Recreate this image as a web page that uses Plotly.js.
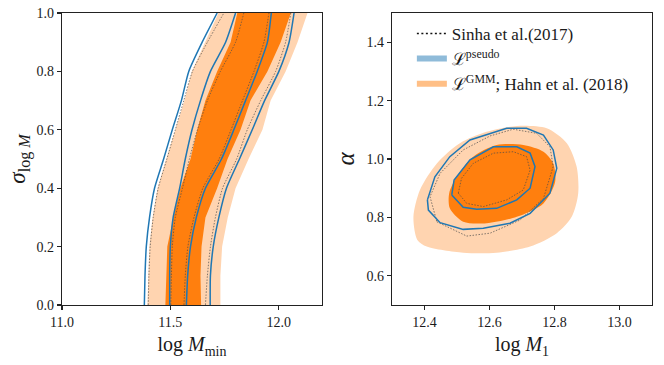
<!DOCTYPE html>
<html>
<head>
<meta charset="utf-8">
<script src="https://cdn.plot.ly/plotly-3.0.1.min.js"></script>
<style>html,body{margin:0;padding:0;background:#fff}#chart{width:664px;height:365px}</style>
</head>
<body>
<div id="chart"></div>
<script>
// ---- left panel: sigma_logM vs log Mmin, band edges read at fixed sigma levels
const sigmaLevels  = [0.0, 0.1, 0.2, 0.3, 0.4, 0.5, 0.6, 0.7, 0.8, 0.9, 1.0];
const gmm95Left    = [11.394, 11.397, 11.403, 11.418, 11.441, 11.481, 11.523, 11.565, 11.599, 11.661, 11.722];
const gmm95Right   = [11.731, 11.731, 11.739, 11.765, 11.801, 11.861, 11.925, 11.963, 12.032, 12.087, 12.133];
const gmm68Left    = [11.477, 11.480, 11.486, 11.514, 11.546, 11.593, 11.624, 11.662, 11.716, 11.778, 11.809];
const gmm68Right   = [11.642, 11.639, 11.644, 11.662, 11.716, 11.764, 11.824, 11.870, 11.948, 12.009, 12.056];
const pseudo95Left = [11.380, 11.383, 11.389, 11.404, 11.427, 11.469, 11.509, 11.551, 11.585, 11.647, 11.716];
const pseudo95Right= [11.684, 11.685, 11.698, 11.724, 11.759, 11.819, 11.878, 11.935, 12.001, 12.048, 12.071];
const pseudo68Left = [11.497, 11.497, 11.500, 11.513, 11.543, 11.569, 11.600, 11.639, 11.685, 11.755, 11.801];
const pseudo68Right= [11.574, 11.580, 11.593, 11.620, 11.662, 11.736, 11.793, 11.847, 11.901, 11.948, 11.966];
const sinha95Left  = [11.398, 11.401, 11.407, 11.421, 11.444, 11.484, 11.523, 11.562, 11.602, 11.671, 11.747];
const sinha95Right = [11.662, 11.671, 11.685, 11.708, 11.741, 11.806, 11.855, 11.917, 11.986, 12.032, 12.056];
const sinha68Left  = [11.502, 11.505, 11.509, 11.523, 11.556, 11.588, 11.625, 11.671, 11.731, 11.801, 11.839];
const sinha68Right = [11.563, 11.569, 11.581, 11.609, 11.650, 11.725, 11.780, 11.833, 11.886, 11.932, 11.955];

// ---- right panel: alpha vs log M1, closed contours
const gmm95M1      = [12.366, 12.378, 12.407, 12.519, 12.622, 12.725, 12.807, 12.853, 12.873, 12.868, 12.838, 12.776, 12.684, 12.591, 12.509, 12.438, 12.386];
const gmm95Alpha   = [0.802, 0.723, 0.700, 0.679, 0.679, 0.700, 0.746, 0.802, 0.883, 0.974, 1.054, 1.105, 1.113, 1.093, 1.054, 0.985, 0.894];
const gmm68M1      = [12.476, 12.478, 12.519, 12.591, 12.684, 12.766, 12.802, 12.796, 12.766, 12.704, 12.622, 12.550, 12.499];
const gmm68Alpha   = [0.883, 0.831, 0.785, 0.780, 0.802, 0.848, 0.922, 0.985, 1.025, 1.048, 1.048, 1.008, 0.939];
const pseudo95M1   = [12.409, 12.412, 12.448, 12.519, 12.581, 12.663, 12.725, 12.786, 12.807, 12.796, 12.766, 12.714, 12.653, 12.602, 12.540, 12.478, 12.432];
const pseudo95Alpha= [0.860, 0.825, 0.782, 0.759, 0.763, 0.780, 0.814, 0.883, 0.968, 1.031, 1.082, 1.105, 1.105, 1.088, 1.065, 1.008, 0.939];
const pseudo68M1   = [12.484, 12.519, 12.561, 12.622, 12.684, 12.725, 12.740, 12.725, 12.684, 12.612, 12.540, 12.491];
const pseudo68Alpha= [0.877, 0.835, 0.828, 0.831, 0.860, 0.900, 0.974, 1.020, 1.042, 1.042, 0.997, 0.928];
const sinha95M1    = [12.438, 12.530, 12.602, 12.694, 12.766, 12.796, 12.786, 12.745, 12.673, 12.602, 12.519, 12.448, 12.417];
const sinha95Alpha = [0.785, 0.736, 0.746, 0.791, 0.865, 0.974, 1.042, 1.088, 1.102, 1.079, 1.031, 0.951, 0.871];
const sinha68M1    = [12.504, 12.530, 12.581, 12.653, 12.704, 12.725, 12.714, 12.673, 12.612, 12.550, 12.514];
const sinha68Alpha = [0.883, 0.848, 0.837, 0.860, 0.894, 0.962, 1.008, 1.025, 1.020, 0.985, 0.934];

const legendNames = ['Sinha et al.(2017)', 'ℒ<sup>pseudo</sup>', 'ℒ<sup>GMM</sup>; Hahn et al. (2018)'];

const C = { light: '#ffd4b0', dark: '#ff7f0e', blue: '#1f77b4', sinha: '#4a4a4a', ink: '#1a1a1a' };
const FONT = "'Liberation Serif', 'DejaVu Serif', serif";
const FINE_DOT = '1.5px,1.5px';   // matplotlib's thin dotted contour

function band(left, right, color) {
  return { x: left.concat(right.slice().reverse()), y: sigmaLevels.concat(sigmaLevels.slice().reverse()),
    xaxis: 'x', yaxis: 'y', mode: 'lines', fill: 'toself', fillcolor: color, line: { width: 0 },
    hoverinfo: 'skip', showlegend: false };
}
function edge(xs, color, width, dash) {
  return { x: xs, y: sigmaLevels, xaxis: 'x', yaxis: 'y', mode: 'lines',
    line: { color, width, dash: dash || 'solid', shape: 'spline', smoothing: 0.6 }, hoverinfo: 'skip', showlegend: false };
}
function closed(a) { return a.concat([a[0]]); }
function blob(xs, ys, color) {
  return { x: closed(xs), y: closed(ys), xaxis: 'x2', yaxis: 'y2', mode: 'lines', fill: 'toself',
    fillcolor: color, line: { width: 0, shape: 'spline', smoothing: 0.8 }, hoverinfo: 'skip', showlegend: false };
}
function ring(xs, ys, color, width, dash) {
  return { x: closed(xs), y: closed(ys), xaxis: 'x2', yaxis: 'y2', mode: 'lines',
    line: { color, width, dash: dash || 'solid' }, hoverinfo: 'skip', showlegend: false };
}

const traces = [
  band(gmm95Left, gmm95Right, C.light),
  band(gmm68Left, gmm68Right, C.dark),
  edge(sinha95Left, C.sinha, 0.7, FINE_DOT), edge(sinha95Right, C.sinha, 0.7, FINE_DOT),
  edge(sinha68Left, C.sinha, 0.7, FINE_DOT), edge(sinha68Right, C.sinha, 0.7, FINE_DOT),
  edge(pseudo95Left, C.blue, 1.5), edge(pseudo95Right, C.blue, 1.5),
  edge(pseudo68Left, C.blue, 1.5), edge(pseudo68Right, C.blue, 1.5),
  blob(gmm95M1, gmm95Alpha, C.light),
  blob(gmm68M1, gmm68Alpha, C.dark),
  ring(sinha95M1, sinha95Alpha, C.sinha, 0.7, FINE_DOT),
  ring(sinha68M1, sinha68Alpha, C.sinha, 0.7, FINE_DOT),
  ring(pseudo95M1, pseudo95Alpha, C.blue, 1.5),
  ring(pseudo68M1, pseudo68Alpha, C.blue, 1.5),
  // legend-only entries
  { x: [null], y: [null], xaxis: 'x2', yaxis: 'y2', mode: 'lines', name: legendNames[0],
    line: { color: '#111', width: 1.6, dash: '2px,2.5px' } },
  { x: [null], y: [null], xaxis: 'x2', yaxis: 'y2', mode: 'lines', name: legendNames[1],
    line: { color: 'rgba(31,119,180,0.5)', width: 6 } },
  { x: [null], y: [null], xaxis: 'x2', yaxis: 'y2', mode: 'lines', name: legendNames[2],
    line: { color: 'rgba(255,127,14,0.5)', width: 6 } },
];

const axisBase = {
  showline: true, mirror: true, linecolor: '#222', linewidth: 1.3, ticks: 'outside', ticklen: 4,
  tickwidth: 1.1, tickcolor: '#222', showgrid: false, zeroline: false, automargin: false,
  tickfont: { family: FONT, size: 14, color: C.ink },
};
const titleFont = { family: FONT, size: 20, color: C.ink };

const layout = {
  width: 664, height: 365, paper_bgcolor: '#fff', plot_bgcolor: '#fff',
  margin: { l: 62, r: 12, t: 13, b: 60 },
  font: { family: FONT, color: C.ink },
  showlegend: true,
  legend: { x: 0.593, y: 0.99, xanchor: 'left', yanchor: 'top', bgcolor: 'rgba(0,0,0,0)',
    font: { family: FONT, size: 17, color: C.ink }, tracegroupgap: 0 },
  xaxis: Object.assign({}, axisBase, { domain: [0, 0.4407], range: [11.0, 12.2], tickvals: [11.0, 11.5, 12.0],
    tickformat: '.1f', title: { text: 'log <i>M</i><sub>min</sub>', font: titleFont, standoff: 8 } }),
  yaxis: Object.assign({}, axisBase, { domain: [0, 1], range: [0, 1], dtick: 0.2, tick0: 0, tickformat: '.1f',
    title: { text: '<i>σ</i><sub>log <i>M</i></sub>', font: { family: FONT, size: 23, color: C.ink }, standoff: 4 } }),
  xaxis2: Object.assign({}, axisBase, { domain: [0.5593, 1], range: [12.3, 13.1], tickvals: [12.4, 12.6, 12.8, 13.0],
    tickformat: '.1f', anchor: 'y2', title: { text: 'log <i>M</i><sub>1</sub>', font: titleFont, standoff: 8 } }),
  yaxis2: Object.assign({}, axisBase, { domain: [0, 1], range: [0.5, 1.5], tickvals: [0.6, 0.8, 1.0, 1.2, 1.4],
    tickformat: '.1f', anchor: 'x2', title: { text: '<i>α</i>', font: { family: FONT, size: 25, color: C.ink }, standoff: 4 } }),
};

Plotly.newPlot('chart', traces, layout, { staticPlot: true, displayModeBar: false });
</script>
</body>
</html>
